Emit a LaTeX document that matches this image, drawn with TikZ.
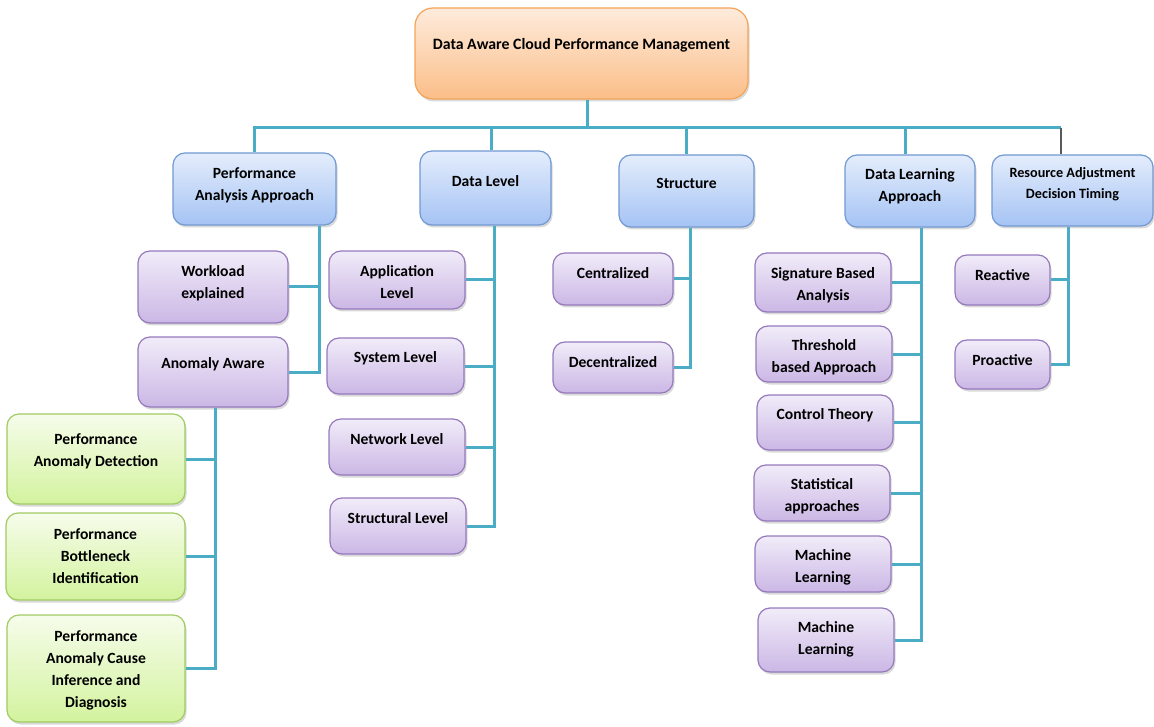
\documentclass[tikz,border=0pt]{standalone}
\usepackage{fontspec}
\setmainfont{Carlito}
\usetikzlibrary{shadows}
\definecolor{connC}{HTML}{4BACC6}
\definecolor{rootT}{HTML}{FEEBDC}
\definecolor{rootB}{HTML}{FBBE88}
\definecolor{rootD}{HTML}{F4A459}
\definecolor{blueT}{HTML}{E4EDFC}
\definecolor{blueB}{HTML}{A5C3F4}
\definecolor{blueD}{HTML}{7199D2}
\definecolor{purT}{HTML}{F1ECF9}
\definecolor{purB}{HTML}{CBB7E5}
\definecolor{purD}{HTML}{9679BC}
\definecolor{grnT}{HTML}{F6FCEB}
\definecolor{grnB}{HTML}{D3F39E}
\definecolor{grnD}{HTML}{A0CB62}
\tikzset{
  box/.style={draw, line width=1.2pt, rounded corners=12pt, inner sep=0pt,
    drop shadow={shadow xshift=1.5pt, shadow yshift=-2.5pt, opacity=0.25, fill=black!60}},
  rootbox/.style={box, top color=rootT, bottom color=rootB, draw=rootD, rounded corners=18pt},
  bluebox/.style={box, top color=blueT, bottom color=blueB, draw=blueD},
  purbox/.style={box, top color=purT, bottom color=purB, draw=purD},
  grnbox/.style={box, top color=grnT, bottom color=grnB, draw=grnD},
  lbl/.style={font=\bfseries\fontsize{15.6}{22}\selectfont, align=center, inner sep=0pt, text=black},
  lblsmall/.style={font=\bfseries\fontsize{14.2}{21}\selectfont, align=center, inner sep=0pt, text=black},
  lblroot/.style={font=\bfseries\fontsize{15.8}{22}\selectfont, align=center, inner sep=0pt, text=black},
  conn/.style={draw=connC, line width=3pt},
  grayconn/.style={draw=black!65, line width=1.5pt},
}
% \bx[label style]{box style}{name}{x1}{y1}{x2}{y2}{text y}{text}
\newcommand\bx[9][lbl]{%
  \node[#2, minimum width={(#6-#4)*1pt}, minimum height={(#7-#5)*1pt}] (#3) at ({(#4+#6)/2},{(#5+#7)/2}) {};
  \node[#1] (#3-t) at ({(#4+#6)/2},#8) {#9};}
\begin{document}
\begin{tikzpicture}[x=1pt,y=-1pt]
\useasboundingbox (0,0) rectangle (1154,727);
% root
\bx[lblroot]{rootbox}{root}{415}{8}{748}{99}{45}{Data Aware Cloud Performance Management}
% level 1
\bx{bluebox}{paa}{173}{153}{336}{225}{185}{Performance\\Analysis Approach}
\bx{bluebox}{dl}{420}{151}{551}{225}{181}{Data Level}
\bx{bluebox}{st}{619}{155}{754}{227}{183}{Structure}
\bx{bluebox}{dla}{845}{155}{975}{227}{186}{Data Learning\\Approach}
\bx[lblsmall]{bluebox}{rad}{992}{155}{1153}{226}{184}{Resource Adjustment\\Decision Timing}
% performance analysis children
\bx{purbox}{wl}{138}{251}{288}{323}{283}{Workload\\explained}
\bx{purbox}{an}{138}{337}{288}{407}{364}{Anomaly Aware}
% anomaly aware children
\bx{grnbox}{pad}{7}{414}{185}{504}{451}{Performance\\Anomaly Detection}
\bx{grnbox}{pbi}{6}{513}{185}{600}{556}{Performance\\Bottleneck\\Identification}
\bx{grnbox}{pac}{7}{615}{185}{722}{670}{Performance\\Anomaly Cause\\Inference and\\Diagnosis}
% data level children
\bx{purbox}{app}{329}{251}{465}{309}{282}{Application\\Level}
\bx{purbox}{sys}{327}{338}{464}{394}{358}{System Level}
\bx{purbox}{net}{329}{419}{465}{475}{439}{Network Level}
\bx{purbox}{str}{330}{498}{466}{554}{518}{Structural Level}
% structure children
\bx{purbox}{cen}{553}{253}{673}{305}{273}{Centralized}
\bx{purbox}{dec}{553}{342}{673}{393}{362}{Decentralized}
% data learning children
\bx{purbox}{sig}{755}{253}{891}{312}{285}{Signature Based\\Analysis}
\bx{purbox}{thr}{756}{326}{892}{382}{357}{Threshold\\based Approach}
\bx{purbox}{ct}{757}{395}{893}{450}{415}{Control Theory}
\bx{purbox}{sa}{754}{465}{890}{521}{496}{Statistical\\approaches}
\bx{purbox}{mla}{755}{536}{891}{592}{567}{Machine\\Learning}
\bx{purbox}{mlb}{758}{608}{894}{672}{639}{Machine\\Learning}
% resource children
\bx{purbox}{rea}{955}{255}{1050}{305}{275}{Reactive}
\bx{purbox}{pro}{955}{340}{1050}{389}{360}{Proactive}
% ---- connectors ----
\coordinate (bus) at (587,128);
\coordinate (busL) at (254,128);
\coordinate (busR) at (1061,128);
\coordinate (d2) at (491,128);
\coordinate (d3) at (686,128);
\coordinate (d4) at (905,128);
\draw[conn] (bus |- root.south) -- (bus);
\draw[conn, line join=miter] (busL |- paa.north) -- (busL) -- (busR);
\draw[conn] (d2) -- (d2 |- dl.north);
\draw[conn] (d3) -- (d3 |- st.north);
\draw[conn] (d4) -- (d4 |- dla.north);
\draw[grayconn] (busR) -- (busR |- rad.north);
% trunks
\coordinate (t1) at (319,0);
\coordinate (t2) at (215,0);
\coordinate (t3) at (494,0);
\coordinate (t4) at (690,0);
\coordinate (t5) at (921,0);
\coordinate (t6) at (1068,0);
\draw[conn] (paa.south -| t1) |- (an.east);
\draw[conn] (wl.east) -- (wl.east -| t1);
\draw[conn] (an.south -| t2) |- (pac.east);
\draw[conn] (pad.east) -- (pad.east -| t2);
\draw[conn] (pbi.east) -- (pbi.east -| t2);
\draw[conn] (dl.south -| t3) |- (str.east);
\draw[conn] (app.east) -- (app.east -| t3);
\draw[conn] (sys.east) -- (sys.east -| t3);
\draw[conn] (net.east) -- (net.east -| t3);
\draw[conn] (st.south -| t4) |- (dec.east);
\draw[conn] (cen.east) -- (cen.east -| t4);
\draw[conn] (dla.south -| t5) |- (mlb.east);
\draw[conn] (sig.east) -- (sig.east -| t5);
\draw[conn] (thr.east) -- (thr.east -| t5);
\draw[conn] (ct.east) -- (ct.east -| t5);
\draw[conn] (sa.east) -- (sa.east -| t5);
\draw[conn] (mla.east) -- (mla.east -| t5);
\draw[conn] (rad.south -| t6) |- (pro.east);
\draw[conn] (rea.east) -- (rea.east -| t6);
\end{tikzpicture}
\end{document}
